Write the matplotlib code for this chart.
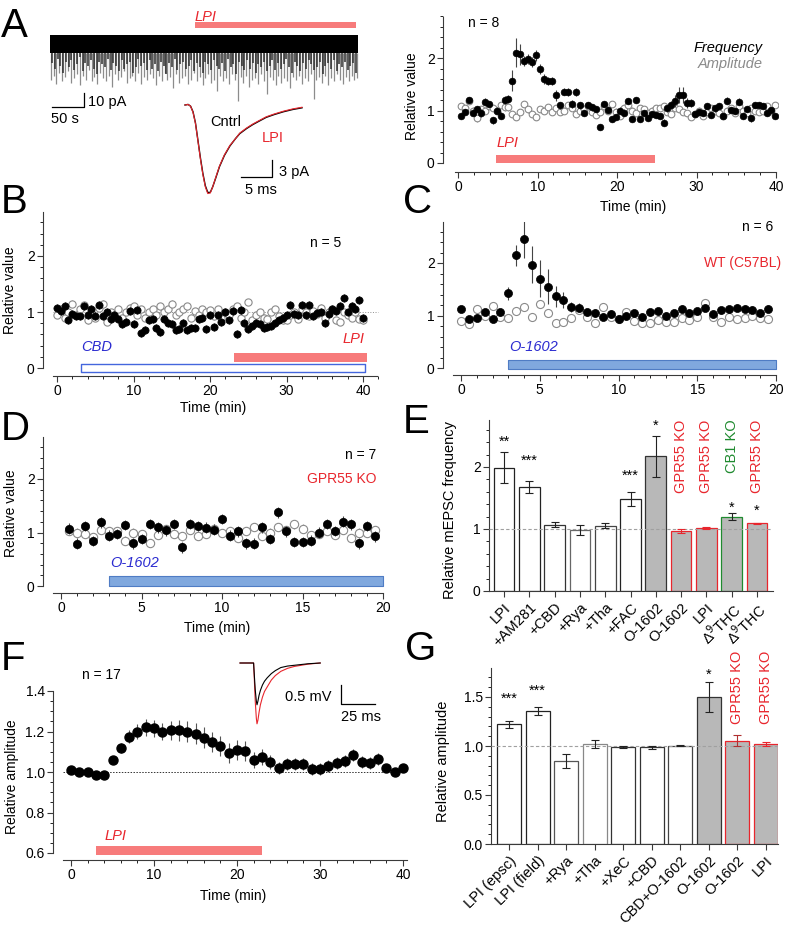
import numpy as np
import matplotlib.pyplot as plt

plt.rcParams['font.family'] = ['Liberation Sans', 'DejaVu Sans']
plt.rcParams['font.size'] = 10

W, H = 787, 931
RED = '#e8262d'
BLUE = '#2b2bd0'
GREEN = '#1f8a2f'
SALMON = '#f77b7b'
O_FILL = '#80a8de'
O_EDGE = '#4f7cc4'
GRAY_BAR = '#b8b8b8'
SPINE = '#3a3a3a'

# ---------------- data ----------------
# A, raw trace (s, pA)
trace_t0, trace_t1 = 0, 481
band_hi, band_lo = 2, -11
spike_depth = [-30, -27, -33, -25, -31, -28, -24, -32, -29, -26, -34, -27, -30, -23, -31, -28, -33, -25, -29, -31,
               -27, -35, -26, -30, -28, -24, -32, -29, -27, -31, -25, -33, -28, -30, -26, -29, -34, -27, -31, -25,
               -30, -28, -36, -26, -32, -29, -27, -33, -30, -25, -31, -28, -34, -29, -26, -32, -30, -38, -27, -31,
               -29, -33, -26, -30, -45, -28, -32, -27, -35, -30, -29, -33, -26, -31, -40, -28, -30, -34, -27, -32,
               -29, -31, -36, -28, -30, -27, -33, -29, -31, -26, -44, -30, -28, -32, -27, -34, -29, -31, -26, -30,
               -33, -28, -31, -27, -30, -29]
short_depth = [-18, -22, -15, -20, -25, -17, -21, -16, -23, -19, -14, -24, -18, -20, -16, -22, -26, -17, -19, -21,
               -15, -23, -18, -20, -24, -16, -22, -19, -17, -25, -21, -15, -20, -18, -23, -16, -22, -19, -24, -17,
               -20, -26, -18, -21, -15, -23, -19, -17, -22, -20, -16, -24, -18, -21, -25, -17, -19, -23, -16, -20,
               -22, -18, -24, -15, -21, -19, -26, -17, -20, -23, -16, -22, -18, -25, -19, -21, -17, -24, -20, -16,
               -23, -18, -22, -19, -15, -21, -25, -17, -20, -24, -18, -22, -16, -19, -23, -21, -17, -26, -20, -18,
               -22, -16, -24, -19, -21, -17, -23, -20, -18, -25]
lpi_trace_on, lpi_trace_off = 226, 478

# A, averaged mEPSC (ms, pA)
mini_t = [0, 0.5, 0.9, 1.3, 1.7, 2.1, 2.5, 2.9, 3.3, 3.7, 4.1, 4.5, 5.0, 5.6, 6.4, 7.3, 8.2, 8.9,
          10, 11, 12, 13.2, 14.5, 16, 17.5, 19]
mini_cntrl = [0, 0.1, -0.2, -1.2, -3.2, -6.3, -9.4, -12.2, -14.4, -15.6, -15.6, -14.6, -13.0, -11.0,
              -9.0, -7.3, -6.0, -5.1, -4.2, -3.5, -2.9, -2.2, -1.7, -1.2, -0.8, -0.5]
mini_lpi = [0, 0.1, -0.2, -1.3, -3.3, -6.4, -9.6, -12.4, -14.6, -15.8, -15.7, -14.6, -12.9, -10.9,
            -8.9, -7.2, -6.0, -5.0, -4.1, -3.4, -2.8, -2.1, -1.6, -1.1, -0.7, -0.4]

# A, time course
a_freq = [0.90, 0.97, 1.20, 0.96, 1.03, 0.95, 1.17, 1.12, 0.81, 1.00,
          0.90, 1.20, 1.22, 1.57, 2.10, 2.07, 1.94, 1.98, 1.92, 2.05,
          1.79, 1.60, 1.56, 1.56, 1.29, 1.10, 1.36, 1.35, 1.12, 1.35,
          1.10, 0.95, 1.10, 1.06, 1.03, 0.68, 1.12, 1.01, 0.84, 0.87,
          1.00, 0.96, 1.18, 0.84, 1.20, 0.84, 0.95, 0.86, 0.94, 0.92,
          0.89, 0.77, 1.04, 1.10, 1.18, 1.29, 1.29, 1.14, 1.14, 0.94,
          0.97, 0.95, 1.08, 0.92, 1.04, 1.08, 0.89, 1.19, 1.01, 0.99,
          1.17, 0.89, 1.03, 0.85, 1.10, 1.11, 1.09, 0.95, 1.01, 0.89]
a_freq_err = [.06, .06, .06, .06, .06, .07, .06, .06, .06, .06,
              .07, .07, .08, .20, .28, .20, .10, .10, .10, .10,
              .10, .10, .08, .08, .10, .07, .07, .07, .08, .07,
              .07, .06, .06, .06, .06, .06, .06, .06, .06, .06,
              .06, .06, .06, .06, .06, .06, .06, .06, .06, .06,
              .06, .06, .07, .08, .12, .15, .15, .10, .08, .06,
              .06, .06, .06, .06, .06, .06, .06, .06, .06, .06,
              .06, .06, .06, .06, .06, .06, .06, .06, .06, .06]
a_amp = [1.08, 1.05, 1.18, 1.0, 0.85, 1.02, 1.0, 1.08, 1.05, 1.0,
         1.1, 1.06, 1.06, 0.93, 0.88, 0.97, 1.12, 1.02, 0.93, 0.87,
         1.03, 1.0, 1.07, 0.97, 1.05, 0.98, 1.0, 1.1, 1.05, 0.93,
         1.0, 1.03, 1.08, 0.98, 0.92, 0.97, 1.08, 1.0, 1.13, 0.98,
         0.9, 1.05, 1.1, 1.0, 0.95, 1.05, 1.02, 0.95, 1.0, 1.05,
         1.05, 1.08, 0.98, 0.93, 1.05, 1.03, 0.97, 0.95, 0.88, 0.93,
         1.0, 0.9, 0.98, 1.05, 1.0, 0.95, 0.9, 1.0, 1.05, 0.95,
         1.08, 1.0, 0.95, 1.05, 1.0, 0.97, 1.0, 1.08, 1.0, 1.1]
a_lpi = (4.8, 24.8)

# B
b_freq = [1.07, 1.02, 1.1, 0.85, 0.97, 0.93, 0.92, 1.1, 0.95, 1.05, 0.93, 1.12, 0.92, 1.0, 0.88, 0.95,
          0.87, 0.78, 0.82, 1.02, 0.78, 1.03,
          0.63, 0.68, 0.85, 0.87, 0.72, 0.65, 0.87, 0.8, 0.78, 0.67, 0.7, 0.8, 0.68, 0.72, 0.72, 0.88,
          0.9, 0.7, 0.95, 0.73,
          0.95, 0.82, 1.0, 0.85, 1.02, 0.6, 1.03, 0.8, 0.7, 0.75, 0.8, 0.78, 0.72, 0.73, 0.75, 0.8,
          0.85, 0.9, 0.95, 1.12,
          0.97, 0.95, 1.12, 0.95, 1.12, 0.92, 0.98, 1.0, 0.8, 0.97, 1.05, 1.02, 1.1, 1.25, 1.0, 1.1,
          1.05, 1.22, 0.9]
b_amp = [0.95, 1.05, 0.9, 1.0, 1.15, 0.95, 1.05, 1.12, 0.85, 1.0, 0.9, 1.08, 1.15, 0.82, 1.0, 0.95,
         1.05, 0.9, 1.0, 1.08, 1.1, 0.95,
         1.05, 0.9, 1.0, 1.05, 0.95, 1.1, 1.0, 1.05, 1.15, 0.95, 1.0, 1.05, 1.1, 0.9, 1.02, 0.95, 1.05, 1.0,
         1.03, 0.92, 1.05, 0.9, 1.0, 0.95, 1.05, 1.1, 0.9, 1.0, 1.18, 0.85, 0.95, 1.0, 0.9, 0.88,
         1.0, 1.05, 0.92, 0.85,
         0.85, 0.95, 1.0, 0.88, 1.05, 1.0, 0.92, 1.02, 0.97, 1.08, 0.9, 1.0, 1.05, 0.85, 0.82, 1.0,
         0.95, 0.9, 1.0, 0.88, 0.85]
b_cbd = (3.1, 40.3)
b_lpi = (23.2, 40.5)

# C
c_freq = [1.12, 0.93, 0.96, 1.07, 0.93, 1.06, 1.42, 2.15, 2.45, 1.97, 1.70, 1.55, 1.37, 1.30, 1.16, 1.15,
          1.06, 1.05, 0.98, 1.03, 0.93, 0.99, 1.04, 0.97, 1.06, 1.08, 0.99, 1.04, 1.13, 1.05, 1.08, 1.15,
          1.03, 1.10, 1.12, 1.15, 1.13, 1.11, 1.04, 1.13]
c_freq_err = [.06, .05, .06, .06, .06, .06, .12, .20, .35, .35, .35, .33, .20, .15, .10, .08,
              .07, .07, .07, .07, .07, .07, .07, .07, .07, .07, .07, .07, .07, .07, .07, .07,
              .07, .07, .07, .07, .07, .07, .07, .07]
c_amp = [0.90, 0.83, 1.12, 1.00, 1.18, 0.97, 0.96, 1.08, 1.16, 0.97, 1.22, 1.04, 0.86, 0.87, 0.95, 1.10,
         0.97, 0.85, 1.16, 0.98, 0.93, 1.07, 0.90, 0.86, 0.85, 0.91, 0.88, 0.87, 0.95, 0.92, 0.98, 1.23,
         0.98, 0.88, 0.97, 0.93, 0.95, 1.00, 0.95, 0.93]
c_o1602 = (3.0, 20.0)

# D
d_freq = [1.07, 0.79, 1.12, 0.84, 1.19, 0.94, 0.97, 1.14, 0.80, 0.88, 1.16, 1.10, 1.04, 1.16, 0.72, 1.16,
          1.12, 1.09, 1.05, 1.25, 0.94, 1.02, 0.80, 0.79, 1.10, 0.88, 1.38, 1.02, 0.82, 0.82, 0.85, 1.00,
          1.16, 1.03, 1.20, 1.15, 0.80, 1.12, 0.93]
d_amp = [1.03, 1.00, 0.97, 0.92, 1.05, 1.02, 1.03, 0.85, 1.00, 0.97, 0.80, 0.96, 1.06, 0.97, 0.93, 1.05,
         0.94, 0.98, 1.07, 0.99, 1.03, 0.90, 1.03, 1.10, 0.94, 1.00, 1.10, 1.05, 1.15, 1.07, 0.95, 0.97,
         1.03, 0.95, 1.05, 0.90, 1.00, 1.00, 1.05]
d_o1602 = (3.0, 20.0)

# E
e_labels = ['LPI', '+AM281', '+CBD', '+Rya', '+Tha', '+FAC', 'O-1602', 'O-1602', 'LPI',
            'Δ$^{9}$THC', 'Δ$^{9}$THC']
e_vals = [1.99, 1.68, 1.07, 0.98, 1.05, 1.48, 2.17, 0.97, 1.02, 1.20, 1.09]
e_err = [0.25, 0.10, 0.04, 0.08, 0.04, 0.11, 0.33, 0.03, 0.02, 0.06, 0.01]
e_stars = ['**', '***', '', '', '', '***', '*', '', '', '*', '*']
e_star_y = [2.40, 2.10, 0, 0, 0, 1.86, 2.66, 0, 0, 1.35, 1.30]
e_geno = ['', '', '', '', '', '', '', 'GPR55 KO', 'GPR55 KO', 'CB1 KO', 'GPR55 KO']

# F
f_vals = [1.01, 1.0, 1.0, 0.985, 0.985, 1.06, 1.12, 1.175, 1.2, 1.22,
          1.215, 1.2, 1.205, 1.205, 1.2, 1.19, 1.17, 1.15, 1.13, 1.095,
          1.11, 1.105, 1.06, 1.075, 1.05, 1.02, 1.04, 1.04, 1.04, 1.015,
          1.015, 1.03, 1.045, 1.055, 1.085, 1.05, 1.045, 1.065, 1.02, 1.0, 1.02]
f_err = [.015, .015, .015, .02, .02, .02, .025, .03, .035, .04,
         .04, .04, .045, .05, .05, .05, .05, .05, .05, .05,
         .05, .05, .04, .04, .035, .03, .03, .03, .03, .03,
         .03, .03, .03, .03, .03, .03, .03, .03, .02, .02, .02]
f_lpi = (3.0, 23.0)
fi_t = [0, 10, 10.5, 11.2, 12, 12.5, 13.2, 14, 15, 16.5, 18, 20, 23, 26, 30, 35, 40, 45, 50, 59]
fi_cntrl = [0, 0, -0.3, -0.7, -1.0, -1.1, -1.0, -0.85, -0.72, -0.58, -0.48, -0.39, -0.28, -0.2,
            -0.12, -0.08, -0.06, -0.04, -0.02, 0]
fi_lpi = [0, 0, -0.4, -1.0, -1.45, -1.6, -1.5, -1.3, -1.1, -0.9, -0.75, -0.63, -0.45, -0.33,
          -0.22, -0.14, -0.09, -0.06, -0.03, 0]

# G
g_labels = ['LPI (epsc)', 'LPI (field)', '+Rya', '+Tha', '+XeC', '+CBD', 'CBD+O-1602', 'O-1602',
            'O-1602', 'LPI']
g_vals = [1.22, 1.355, 0.85, 1.02, 0.985, 0.985, 1.005, 1.50, 1.055, 1.025]
g_err = [0.04, 0.04, 0.07, 0.04, 0.01, 0.015, 0.01, 0.15, 0.06, 0.02]
g_stars = ['***', '***', '', '', '', '', '', '*', '', '']
g_star_y = [1.48, 1.56, 0, 0, 0, 0, 0, 1.73, 0, 0]
g_geno = ['', '', '', '', '', '', '', '', 'GPR55 KO', 'GPR55 KO']

# ---------------- helpers ----------------
fig = plt.figure(figsize=(W / 100, H / 100), dpi=100)


def px_ax(l, t, r, b, xmap, ymap):
    ax = fig.add_axes([l / W, 1 - b / H, (r - l) / W, (b - t) / H])
    (x0, v0), (x1, v1) = xmap
    kx = (x1 - x0) / (v1 - v0)
    ax.set_xlim(v0 + (l - x0) / kx, v0 + (r - x0) / kx)
    (y0, w0), (y1, w1) = ymap
    ky = (y0 - y1) / (w1 - w0)
    ax.set_ylim(w0 - (b - y0) / ky, w0 + (y0 - t) / ky)
    ax.patch.set_alpha(0)
    ax.box = (l, t, r, b)
    return ax


def origin(ax, xb, yb, xmaj, xmin, ymaj, ymin):
    xl, yl = ax.get_xlim(), ax.get_ylim()
    for s in ['top', 'right']:
        ax.spines[s].set_visible(False)
    for s in ['left', 'bottom']:
        ax.spines[s].set_color(SPINE)
        ax.spines[s].set_linewidth(0.8)
    ax.spines['left'].set_bounds(*yb)
    ax.spines['bottom'].set_bounds(*xb)
    if xmaj is not None:
        ax.set_xticks(xmaj)
    if xmin is not None:
        ax.set_xticks(xmin, minor=True)
    ax.set_yticks(ymaj)
    ax.set_yticks(ymin, minor=True)
    ax.set_xlim(xl)
    ax.set_ylim(yl)
    ax.tick_params(direction='out', length=4, width=0.8, color=SPINE, labelsize=10, pad=2)
    ax.tick_params(which='minor', length=2, width=0.6)


def ylab(ax, text, px, py, size=10):
    l, t, r, b = ax.box
    ax.set_ylabel(text, fontsize=size)
    ax.yaxis.set_label_coords((px - l) / (r - l), (b - py) / (b - t))


def xlab(ax, text, px, py, size=10):
    l, t, r, b = ax.box
    ax.set_xlabel(text, fontsize=size)
    ax.xaxis.set_label_coords((px - l) / (r - l), (b - py) / (b - t))


def course(ax, freq, amp, t0, ms, ferr=0.07, aerr=0.06):
    tf = t0 + 0.5 * np.arange(len(freq))
    ta = t0 + 0.5 * np.arange(len(amp))
    ax.errorbar(ta, amp, yerr=aerr, fmt='o', ms=ms, mfc='white', mec='#8a8a8a', mew=0.8,
                ecolor='#a0a0a0', elinewidth=0.8, capsize=0, zorder=2)
    ax.errorbar(tf, freq, yerr=ferr, fmt='o', ms=ms, mfc='black', mec='black', mew=0.5,
                ecolor='#444444', elinewidth=0.8, capsize=0, zorder=3)


def letter(s, px, py):
    fig.text(px / W, 1 - py / H, s, fontsize=29, va='baseline', ha='left')


# ---------------- A: raw trace ----------------
ax = px_ax(48, 10, 362, 125, ((50, 0), (358, 481)), ((35, 2), (49, -8)))
ax.axis('off')
ax.vlines(np.linspace(trace_t0 + 1, trace_t1 - 1, len(spike_depth)), band_lo, spike_depth,
          color='#8c8c8c', lw=0.9)
ax.vlines(np.linspace(trace_t0 + 3, trace_t1 - 3, len(short_depth)), band_lo, short_depth,
          color='#2e2e2e', lw=1.1)
ax.fill_between([trace_t0, trace_t1], band_lo, band_hi, color='black', lw=0)
ax.fill_between([lpi_trace_on, lpi_trace_off], 7, 11.3, color=SALMON, lw=0)
ax.text(lpi_trace_on, 12, 'LPI', color=RED, style='italic', fontsize=10.5, va='baseline')
ax.plot([3.1, 53.1, 53.1], [-49.4, -49.4, -39.4], color='black', lw=0.9)
ax.text(59, -45.9, '10 pA', fontsize=10.5, va='center')
ax.text(1.5, -53, '50 s', fontsize=10.5, va='top')

# A: averaged event
ax = px_ax(180, 100, 320, 200, ((185, 0), (302, 19)), ((105, 0), (193, -15.7)))
ax.axis('off')
ax.plot(mini_t, mini_cntrl, color='black', lw=1.0)
ax.plot(mini_t, mini_lpi, color=RED, lw=0.8)
ax.plot([9.1, 14.1, 14.1], [-12.85, -12.85, -9.8], color='black', lw=0.9)
ax.text(15.3, -11.9, '3 pA', fontsize=10.5, va='center')
ax.text(12.3, -13.9, '5 ms', fontsize=10.5, va='top', ha='center')
ax.text(4.1, -3.0, 'Cntrl', fontsize=10.5, va='center')
ax.text(12.5, -5.9, 'LPI', fontsize=10.5, va='center', color=RED)

# A: time course
ax = px_ax(443, 15, 778, 172, ((458, 0), (776, 40)), ((163, 0), (58, 2)))
origin(ax, (-0.4, 40), (0, 2.78), np.arange(0, 41, 10), np.arange(0, 41, 2),
       [0, 1, 2], np.arange(0, 2.81, 0.2))
course(ax, a_freq, a_amp, 0.35, 4.8, ferr=a_freq_err)
ax.fill_between(list(a_lpi), 0, 0.15, color=SALMON, lw=0)
ax.text(a_lpi[0], 0.3, 'LPI', color=RED, style='italic', fontsize=10.5)
ax.text(1.3, 2.67, 'n = 8', fontsize=10, va='center')
ax.text(38.3, 2.19, 'Frequency', fontsize=10.5, style='italic', ha='right', va='center')
ax.text(38.3, 1.89, 'Amplitude', fontsize=10.5, style='italic', ha='right', va='center', color='#8a8a8a')
ylab(ax, 'Relative value', 419, 96)
xlab(ax, 'Time (min)', 633, 200)

# ---------------- B ----------------
ax = px_ax(43, 212, 380, 376, ((57, 0), (363, 40)), ((368, 0), (256, 2)))
origin(ax, (-0.5, 41.8), (0, 2.79), np.arange(0, 41, 10), np.arange(0, 42.1, 2),
       [0, 1, 2], np.arange(0, 2.81, 0.2))
ax.plot([-0.5, 42], [1, 1], color='#909090', lw=0.7, ls=':', zorder=1)
course(ax, b_freq, b_amp, 0.0, 5.2)
ax.fill_between(list(b_cbd), -0.08, 0.08, facecolor='white', edgecolor='#4466dd', lw=1.0)
ax.fill_between(list(b_lpi), 0.11, 0.27, color=SALMON, lw=0)
ax.text(b_cbd[0], 0.3, 'CBD', color=BLUE, style='italic', fontsize=10.5)
ax.text(40.2, 0.45, 'LPI', color=RED, style='italic', fontsize=10.5, ha='right')
ax.text(33.1, 2.23, 'n = 5', fontsize=10, va='center')
ylab(ax, 'Relative value', 17, 290)
xlab(ax, 'Time (min)', 213, 401)

# ---------------- C ----------------
ax = px_ax(443, 222, 778, 375, ((461, 0), (776, 20)), ((368, 0), (263, 2)))
origin(ax, (-0.5, 20), (0, 2.79), np.arange(0, 21, 5), np.arange(0, 20.1, 1),
       [0, 1, 2], np.arange(0, 2.81, 0.2))
course(ax, c_freq, c_amp, 0.0, 5.8, ferr=c_freq_err)
ax.fill_between(list(c_o1602), -0.02, 0.15, facecolor=O_FILL, edgecolor=O_EDGE, lw=0.8)
ax.text(c_o1602[0] + 0.05, 0.33, 'O-1602', color=BLUE, style='italic', fontsize=10.5)
ax.text(19.8, 2.69, 'n = 6', fontsize=10, ha='right', va='center')
ax.text(20.3, 2.0, 'WT (C57BL)', fontsize=10, ha='right', va='center', color=RED)

# ---------------- D ----------------
ax = px_ax(43, 438, 385, 593, ((61, 0), (383, 20)), ((586, 0), (479, 2)))
origin(ax, (-0.5, 20), (0, 2.78), np.arange(0, 21, 5), np.arange(0, 20.1, 1),
       [0, 1, 2], np.arange(0, 2.81, 0.2))
course(ax, d_freq, d_amp, 0.5, 6.0, ferr=0.1, aerr=0.08)
ax.fill_between(list(d_o1602), 0.0, 0.18, facecolor=O_FILL, edgecolor=O_EDGE, lw=0.8)
ax.text(d_o1602[0] + 0.05, 0.35, 'O-1602', color=BLUE, style='italic', fontsize=10.5)
ax.text(19.6, 2.45, 'n = 7', fontsize=10, ha='right', va='center')
ax.text(19.6, 2.0, 'GPR55 KO', fontsize=10, ha='right', va='center', color=RED)
ylab(ax, 'Relative value', 18, 513)
xlab(ax, 'Time (min)', 217, 621)

# ---------------- E ----------------
ax = px_ax(489, 420, 775, 591, ((504, 0), (757, 10)), ((591, 0), (467, 2)))
xe = np.arange(len(e_vals))
origin(ax, (ax.get_xlim()[0], 10.63), (0, 2.76), None, None, [0, 1, 2], np.arange(0, 2.71, 0.2))
e_face = ['white'] * 6 + [GRAY_BAR] * 5
e_edge = ['#222222', '#222222', '#333333', '#666666', '#444444', '#222222', '#333333', RED, RED, GREEN, RED]
e_ecol = ['#222222'] * 7 + [RED, RED, '#222222', RED]
ax.plot([ax.get_xlim()[0], 10.6], [1, 1], color='#a0a0a0', lw=0.8, ls=(0, (3, 2)), zorder=3)
for i in xe:
    ax.bar(i, e_vals[i], width=0.82, color=e_face[i], edgecolor=e_edge[i], lw=0.9, zorder=2)
    ax.errorbar(i, e_vals[i], yerr=e_err[i], color=e_ecol[i], capsize=3, elinewidth=0.8,
                capthick=0.8, zorder=4)
    if e_stars[i]:
        ax.text(i, e_star_y[i], e_stars[i], ha='center', va='center', fontsize=10.5)
    if e_geno[i]:
        ax.text(i, 2.77, e_geno[i], rotation=90, ha='center', va='top', fontsize=10.5,
                color=GREEN if 'CB1' in e_geno[i] else RED)
ax.set_xticks(xe)
ax.set_xticklabels(e_labels, rotation=45, ha='right', rotation_mode='anchor', fontsize=10.5)
ax.tick_params(axis='x', length=4, pad=3)
ylab(ax, 'Relative mEPSC frequency', 457, 510, size=10.5)

# ---------------- F ----------------
ax = px_ax(53, 688, 405, 860, ((71, 0), (320, 30)), ((853, 0.6), (691, 1.4)))
origin(ax, (-1, 40.5), (0.6, 1.4), np.arange(0, 41, 10), np.arange(0, 41, 2),
       np.arange(0.6, 1.41, 0.2), np.arange(0.6, 1.41, 0.05))
ax.set_yticklabels(['0.6', '0.8', '1.0', '1.2', '1.4'])
ax.plot([-1, 40], [1, 1], color='#333333', lw=0.7, ls=(0, (1.5, 1.5)), zorder=1)
tf = np.arange(len(f_vals))
ax.errorbar(tf, f_vals, yerr=f_err, fmt='o', ms=6.5, mfc='black', mec='black', ecolor='#555555',
            elinewidth=0.8, capsize=0, zorder=3, clip_on=False)
ax.fill_between(list(f_lpi), 0.592, 0.634, color=SALMON, lw=0)
ax.text(f_lpi[0] + 1.0, 0.665, 'LPI', color=RED, style='italic', fontsize=10.5)
ax.text(1.3, 1.479, 'n = 17', fontsize=10, va='center')
ylab(ax, 'Relative amplitude', 19, 777)
xlab(ax, 'Time (min)', 233, 889)

# F inset
ax = px_ax(235, 655, 390, 730, ((240, 0), (376, 100)), ((663, 0), (701, -1)))
ax.axis('off')
ax.plot(fi_t, fi_lpi, color=RED, lw=0.8)
ax.plot(fi_t, fi_cntrl, color='black', lw=0.8)
ax.plot([74.3, 74.3, 99.3], [-0.579, -1.079, -1.079], color='black', lw=0.9)
ax.text(67.6, -0.895, '0.5 mV', fontsize=10.5, ha='right', va='center')
ax.text(89, -1.24, '25 ms', fontsize=10.5, ha='center', va='top')

# ---------------- G ----------------
ax = px_ax(491, 668, 778, 844, ((509, 0), (766, 9)), ((844, 0), (697, 1.5)))
xg = np.arange(len(g_vals))
origin(ax, (ax.get_xlim()[0], 9.42), (0, 1.8), None, None, np.arange(0, 1.51, 0.5),
       np.arange(0, 1.81, 0.1))
ax.set_yticklabels(['0.0', '0.5', '1.0', '1.5'])
g_face = ['white'] * 7 + [GRAY_BAR] * 3
g_edge = ['#222222', '#222222', '#555555', '#888888', '#333333', '#333333', '#444444', '#333333',
          RED, RED]
g_ecol = ['#222222'] * 8 + ['#b03030', RED]
ax.plot([ax.get_xlim()[0], 9.4], [1, 1], color='#a0a0a0', lw=0.8, ls=(0, (3, 2)), zorder=3)
for i in xg:
    ax.bar(i, g_vals[i], width=0.84, color=g_face[i], edgecolor=g_edge[i], lw=0.9, zorder=2)
    ax.errorbar(i, g_vals[i], yerr=g_err[i], color=g_ecol[i], capsize=3, elinewidth=0.8,
                capthick=0.8, zorder=4)
    if g_stars[i]:
        ax.text(i, g_star_y[i], g_stars[i], ha='center', va='center', fontsize=10.5)
    if g_geno[i]:
        ax.text(i, 1.97, g_geno[i], rotation=90, ha='center', va='top', fontsize=10.5, color=RED)
ax.set_xticks(xg)
ax.set_xticklabels(g_labels, rotation=45, ha='right', rotation_mode='anchor', fontsize=10.5)
ax.tick_params(axis='x', length=4, pad=3)
ylab(ax, 'Relative amplitude', 450, 761, size=10.5)

# panel letters
letter('A', 1, 37)
letter('B', 1, 213)
letter('C', 403, 213)
letter('D', 1, 440)
letter('E', 403, 433)
letter('F', 1, 670)
letter('G', 405, 660)

fig.savefig('out.png', dpi=100)
